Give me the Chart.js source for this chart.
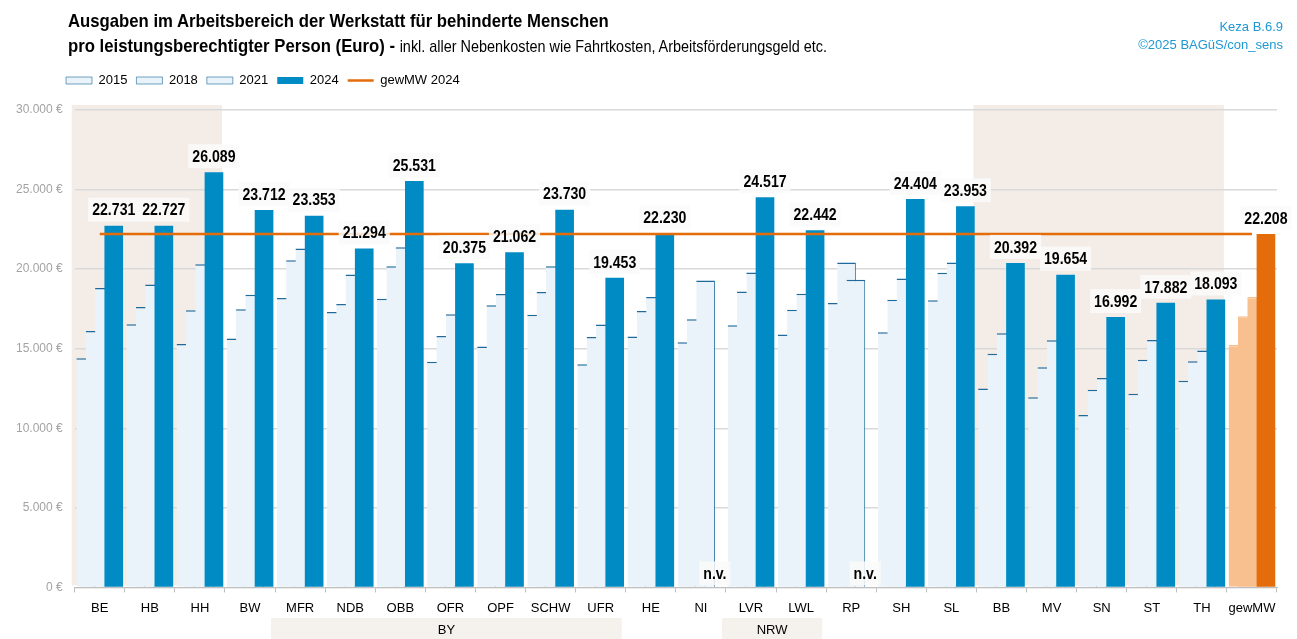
<!DOCTYPE html>
<html lang="de">
<head>
  <meta charset="UTF-8">
  <title>Keza B.6.9 - Ausgaben Arbeitsbereich WfbM</title>
  <script src="https://cdn.jsdelivr.net/npm/chart.js"></script>
  <style>
    body { margin: 0; background: #fff; font-family: "Liberation Sans", Arial, sans-serif; }
    #wrap { position: relative; width: 1297px; height: 639px; }
    canvas { position: absolute; left: 0; top: 0; }
    #title { position: absolute; left: 68px; top: 8px; font-size: 19px; line-height: 25px; font-weight: bold;
             color: #000; white-space: nowrap; transform: scaleX(0.88); transform-origin: left top; }
    #title span { font-size: 16.4px; font-weight: normal; }
    #source { position: absolute; right: 14px; top: 18px; text-align: right; color: #1e98d4;
              font-size: 13px; line-height: 18px; }
  </style>
</head>
<body>
<div id="wrap">
  <canvas id="chart" width="1297" height="639"></canvas>
  <div id="title">Ausgaben im Arbeitsbereich der Werkstatt für behinderte Menschen<br>pro leistungsberechtigter Person (Euro) - <span>inkl. aller Nebenkosten wie Fahrtkosten, Arbeitsförderungsgeld etc.</span></div>
  <div id="source">Keza B.6.9<br>©2025 BAGüS/con_sens</div>
</div>

<script>
  // Daten (Euro je Leistungsberechtigtem)
  const labels = ["BE", "HB", "HH", "BW", "MFR", "NDB", "OBB", "OFR", "OPF", "SCHW", "UFR", "HE",
                  "NI", "LVR", "LWL", "RP", "SH", "SL", "BB", "MV", "SN", "ST", "TH", "gewMW"];
  const values2015 = [14405, 16535, 15300, 15637, 18184, 17307, 18142, 14175, 15136, 17140, 14029, 15762,
                      15407, 16472, 15887, 17870, 16033, 18038, 12505, 11942, 10835, 12171, 12985, 15240];
  const values2018 = [16115, 17620, 17411, 17474, 20564, 17808, 20188, 15804, 17724, 18560, 15741, 17370,
                      16848, 18601, 17453, 20417, 18079, 19770, 14676, 13841, 12422, 14301, 14217, 17035];
  const values2021 = [18810, 19040, 20313, 18393, 21290, 19666, 21378, 17161, 18434, 20188, 16514, 18246,
                      19290, 19791, 18455, 19332, 19415, 20417, 15971, 15532, 13152, 15553, 14885, 18246];
  const values2024 = [22731, 22727, 26089, 23712, 23353, 21294, 25531, 20375, 21062, 23730, 19453, 22230,
                      null, 24517, 22442, null, 24404, 23953, 20392, 19654, 16992, 17882, 18093, 22208];
  const mean2024 = 22208;
  const yTicks = [0, 5000, 10000, 15000, 20000, 25000, 30000];

  // hinterlegte Bereiche im Diagramm und Gruppen unter der Achse
  const shadedRanges = [["BE", "HH"], ["BB", "TH"]];
  const groupRanges = [["BY", "MFR", "UFR"], ["NRW", "LVR", "LWL"]];

  const fmt = v => String(v).replace(/\B(?=(\d{3})+(?!\d))/g, ".");
  const isMean = l => l === "gewMW";
  const lightFill = labels.map(l => isMean(l) ? "#f9c08f" : "#eaf3f9");
  const lightCap = labels.map(l => isMean(l) ? "#f9c08f" : "#1f6a9a");
  const darkFill = labels.map(l => isMean(l) ? "#e46c0a" : "#008bc5");
  const font = '"Liberation Sans", Arial, sans-serif';

  function lightSet(label, data) {
    return {
      label, data,
      backgroundColor: lightFill, borderColor: lightCap,
      borderWidth: { top: 1.5, right: 1, left: 0, bottom: 0 },
      pointStyle: "rect"
    };
  }

  // schmale Schrift nachbilden: Text horizontal stauchen
  function narrowText(ctx, text, x, y) {
    ctx.save();
    ctx.translate(x, y);
    ctx.scale(0.83, 1);
    ctx.fillText(text, 0, 0);
    ctx.restore();
  }

  // Legende links über dem Diagramm, mit etwas Abstand nach unten
  const legendPlacement = {
    id: "legendPlacement",
    beforeUpdate(chart) {
      const legend = chart.legend;
      if (legend && !legend._patched) {
        const fit = legend.fit;
        legend.fit = function () { fit.call(this); this.height += 13; };
        legend._patched = true;
      }
    },
    afterLayout(chart) {
      chart.legend.left = 57;
    }
  };

  // Balken links nach rechts zeichnen, damit jeder die rechte Hälfte des vorigen verdeckt
  const drawInOrder = {
    id: "drawInOrder",
    beforeDatasetsDraw(chart) {
      chart.data.datasets.forEach((ds, i) => chart.getDatasetMeta(i).controller.draw());
      return false;
    }
  };

  function rangePixels(x, from, to) {
    const half = x.width / labels.length / 2;
    return [x.getPixelForValue(labels.indexOf(from)) - half, x.getPixelForValue(labels.indexOf(to)) + half];
  }

  const shading = {
    id: "shading",
    beforeDraw(chart) {
      const { ctx, chartArea, scales: { x } } = chart;
      ctx.save();
      ctx.fillStyle = "#f4ede7";
      shadedRanges.forEach(([from, to]) => {
        const [a, b] = rangePixels(x, from, to);
        ctx.fillRect(a - 3, chartArea.top - 5, b - a, chartArea.bottom - chartArea.top + 3);
      });
      ctx.restore();
    },
    afterDraw(chart) {
      const { ctx, scales: { x } } = chart;
      ctx.save();
      ctx.font = "13px " + font;
      ctx.textAlign = "center";
      ctx.textBaseline = "middle";
      groupRanges.forEach(([name, from, to]) => {
        const [a, b] = rangePixels(x, from, to);
        ctx.fillStyle = "#f5f1ed";
        ctx.fillRect(a - 4, 618, b - a, 21);
        ctx.fillStyle = "#000";
        ctx.fillText(name, (a + b) / 2 - 4, 630);
      });
      ctx.restore();
    }
  };

  const valueLabels = {
    id: "valueLabels",
    afterDraw(chart) {
      const { ctx, chartArea } = chart;
      const meta = chart.getDatasetMeta(3);
      ctx.save();
      ctx.font = "bold 17px " + font;
      ctx.textAlign = "center";
      ctx.textBaseline = "middle";
      meta.data.forEach((bar, i) => {
        const v = values2024[i];
        const text = v === null ? "n.v." : fmt(v);
        const w = ctx.measureText(text).width * 0.83 + 8;
        const bottom = v === null ? chartArea.bottom - 2 : bar.y - 4;
        ctx.fillStyle = "rgba(250,250,250,0.85)";
        ctx.fillRect(bar.x - w / 2, bottom - 24, w, 24);
        ctx.fillStyle = "#000";
        narrowText(ctx, text, bar.x, bottom - 11);
      });
      ctx.restore();
    }
  };

  new Chart(document.getElementById("chart"), {
    type: "bar",
    data: {
      labels,
      datasets: [
        lightSet("2015", values2015),
        lightSet("2018", values2018),
        lightSet("2021", values2021),
        { label: "2024", data: values2024, backgroundColor: darkFill, borderWidth: 0, pointStyle: "rect" },
        { type: "line", label: "gewMW 2024", data: labels.map(() => mean2024),
          borderColor: "#e46c0a", backgroundColor: "#e46c0a", borderWidth: 2.5,
          pointRadius: 0, pointStyle: "line" }
      ]
    },
    options: {
      responsive: false,
      animation: false,
      datasets: { bar: { categoryPercentage: 0.745, barPercentage: 2 } },
      layout: { padding: { left: 4, right: 20, top: 65, bottom: 15 } },
      plugins: {
        legend: {
          align: "start",
          labels: {
            usePointStyle: true, pointStyleWidth: 26, boxHeight: 7, padding: 9,
            color: "#000", font: { family: font, size: 13 }
          }
        },
        tooltip: { enabled: false }
      },
      scales: {
        x: {
          grid: { drawOnChartArea: false, tickLength: 5, color: "#bfbfbf" },
          border: { color: "#bfbfbf" },
          ticks: { color: "#000", font: { family: font, size: 13 }, padding: 8,
                   maxRotation: 0, autoSkip: false }
        },
        y: {
          min: 0, max: 30000,
          afterBuildTicks: s => { s.ticks = yTicks.map(value => ({ value })); },
          grid: { color: "#d9d9d9", lineWidth: 1.5, drawTicks: false },
          border: { display: false },
          ticks: { color: "#a3a3a3", font: { family: font, size: 12 }, padding: 12,
                   callback: v => fmt(v) + " €" }
        }
      }
    },
    plugins: [legendPlacement, shading, drawInOrder, valueLabels]
  });
</script>
</body>
</html>
